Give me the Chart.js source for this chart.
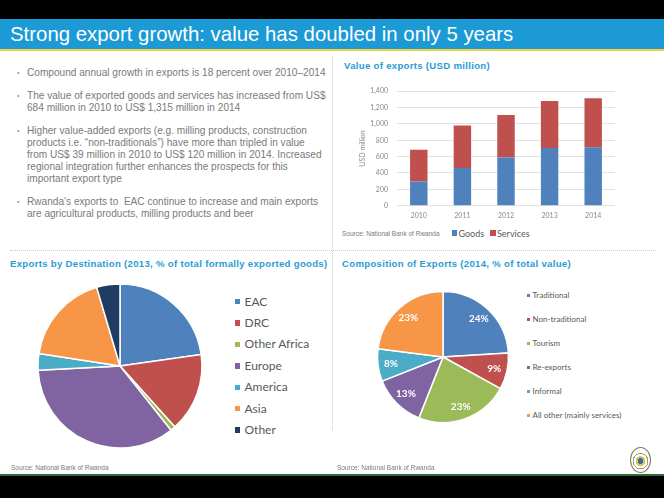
<!DOCTYPE html>
<html>
<head>
<meta charset="utf-8">
<script src="https://cdn.jsdelivr.net/npm/chart.js@4"></script>
<style>
  body { margin: 0; width: 664px; height: 498px; position: relative; background: #fff; overflow: hidden; font-family: "Liberation Sans", Arial, sans-serif; }
  .abs { position: absolute; }
  #topbar { left: 0; top: 0; width: 664px; height: 19px; background: #000; }
  #titlebar { left: 0; top: 19px; width: 664px; height: 30px; background: #1b9ad6; }
  #titleline { left: 0; top: 49px; width: 664px; height: 2px; background: #f3d43a; }
  #title { left: 10px; top: 21px; color: #fff; font-size: 20.4px; line-height: 26px; white-space: nowrap; }
  .para { left: 27px; color: #7a7a7a; font-size: 10.1px; line-height: 12px; white-space: nowrap; }
  .para:before { content: "\2022"; position: absolute; left: -10px; color: #9a9a9a; font-size: 7px; }
  .sect { color: #2a9bd6; font-weight: bold; font-size: 9.6px; letter-spacing: 0.3px; white-space: nowrap; line-height: 12px; }
  .src { color: #7a7a7a; font-size: 6.5px; white-space: nowrap; line-height: 8px; }
  .vdot { left: 332px; top: 57px; width: 0; height: 373px; border-left: 1px dotted #c9c9c9; }
  .hdot { left: 10px; top: 250px; width: 646px; height: 0; border-top: 1px dotted #c9c9c9; }
  #footline { left: 0; top: 474px; width: 664px; height: 2px; background: #2d6a3c; }
  #footbar { left: 0; top: 476px; width: 664px; height: 22px; background: #000; }
  .leg { font-family: Lato, "Liberation Sans", sans-serif; color: #595959; white-space: nowrap; }
  .leg span.box { position: absolute; }
  #logo { left: 630px; top: 447px; width: 19px; height: 24px; border-radius: 50%; border: 1px solid #7d7a52; background: radial-gradient(circle at 50% 55%, #2f6fb0 0 3px, #e3c34a 3px 5px, #fff 5px 7px, #9aa07c 7px 8px, #fff 8px); }
</style>
</head>
<body>
<div id="topbar" class="abs"></div>
<div id="titlebar" class="abs"></div>
<div id="titleline" class="abs"></div>
<div id="title" class="abs">Strong export growth: value has doubled in only 5 years</div>

<div class="abs para" style="top:67px">Compound annual growth in exports is 18 percent over 2010&ndash;2014</div>
<div class="abs para" style="top:89.7px">The value of exported goods and services has increased from US$<br>684 million in 2010 to US$ 1,315 million in 2014</div>
<div class="abs para" style="top:124.7px">Higher value-added exports (e.g. milling products, construction<br>products i.e. &ldquo;non-traditionals&rdquo;) have more than tripled in value<br>from US$ 39 million in 2010 to US$ 120 million in 2014. Increased<br>regional integration further enhances the prospects for this<br>important export type</div>
<div class="abs para" style="top:195.7px">Rwanda&rsquo;s exports to&nbsp; EAC continue to increase and main exports<br>are agricultural products, milling products and beer</div>

<div class="abs vdot"></div>
<div class="abs hdot"></div>

<div class="abs sect" style="left:344px; top:60px">Value of exports (USD million)</div>
<div class="abs sect" style="left:10px; top:257.5px">Exports by Destination (2013, % of total formally exported goods)</div>
<div class="abs sect" style="left:342px; top:257.5px">Composition of Exports (2014, % of total value)</div>

<canvas id="bar" class="abs" width="290" height="150" style="left:335px; top:78px"></canvas>
<div class="abs src" style="left:342px; top:230px">Source: National Bank of Rwanda</div>
<div id="barLegend"></div>

<canvas id="pieDest" class="abs" width="180" height="180" style="left:30px; top:275.7px"></canvas>
<div id="destLegend"></div>

<canvas id="pieComp" class="abs" width="150" height="150" style="left:368.3px; top:281.7px"></canvas>
<div id="compLegend"></div>

<div class="abs src" style="left:11px; top:464px">Source: National Bank of Rwanda</div>
<div class="abs src" style="left:337px; top:464px">Source: National Bank of Rwanda</div>
<div id="logo" class="abs"></div>
<div id="footline" class="abs"></div>
<div id="footbar" class="abs"></div>

<script>
// value of exports, USD million
const years = ['2010', '2011', '2012', '2013', '2014'];
const goods = [296, 460, 588, 704, 716];
const services = [388, 520, 520, 576, 599];
const barSeries = ['Goods', 'Services'];

// exports by destination, 2013 (% of formally exported goods)
const destLabels = ['EAC', 'DRC', 'Other Africa', 'Europe', 'America', 'Asia', 'Other'];
const destValues = [22.8, 15.6, 1.0, 34.9, 3.3, 18.0, 4.6];

// composition of exports, 2014 (% of total value)
const compLabels = ['Traditional', 'Non-traditional', 'Tourism', 'Re-exports', 'Informal', 'All other (mainly services)'];
const compValues = [24, 9, 23, 13, 8, 23];

const blue = '#4f81bd', red = '#c0504d', green = '#9bbb59', purple = '#8064a2',
      teal = '#4bacc6', orange = '#f79646', navy = '#1f3d63';
const barColors = [blue, red];
const destColors = [blue, red, green, purple, teal, orange, navy];
const compColors = [blue, red, green, purple, teal, orange];

function legend(id, labels, colors, x, y0, step, box, font, gap) {
  var el = document.getElementById(id);
  labels.forEach(function (lab, i) {
    var y = y0 + i * step;
    var row = document.createElement('div');
    row.className = 'abs leg';
    row.style.left = x + 'px';
    row.style.top = (y - font * 0.6) + 'px';
    row.style.fontSize = font + 'px';
    row.style.lineHeight = (font * 1.2) + 'px';
    row.style.paddingLeft = (box + gap) + 'px';
    row.innerHTML = '<span class="box" style="left:0; top:' + (font * 0.6 - box / 2) + 'px; width:' + box + 'px; height:' + box + 'px; background:' + colors[i] + '"></span>' + lab;
    el.appendChild(row);
  });
}

// bar legend laid out horizontally
(function () {
  var el = document.getElementById('barLegend');
  var xs = [451.5, 490];
  barSeries.forEach(function (lab, i) {
    var row = document.createElement('div');
    row.className = 'abs leg';
    row.style.left = xs[i] + 'px';
    row.style.top = '227.5px';
    row.style.fontSize = '9px';
    row.style.lineHeight = '11px';
    row.style.paddingLeft = '7px';
    row.innerHTML = '<span class="box" style="left:0; top:2.5px; width:5.5px; height:5.5px; background:' + barColors[i] + '"></span>' + lab;
    el.appendChild(row);
  });
})();

legend('destLegend', destLabels, destColors, 234.5, 301.7, 21.4, 5.5, 12, 4.5);
legend('compLegend', compLabels, compColors, 527, 296, 24, 3, 8, 2.5);

new Chart(document.getElementById('bar'), {
  type: 'bar',
  data: {
    labels: years,
    datasets: [
      { label: barSeries[0], data: goods, backgroundColor: barColors[0] },
      { label: barSeries[1], data: services, backgroundColor: barColors[1] }
    ]
  },
  options: {
    responsive: false,
    animation: false,
    layout: { padding: { left: 20, right: 10, top: 11, bottom: 0 } },
    datasets: { bar: { categoryPercentage: 1, barPercentage: 0.4 } },
    plugins: { legend: { display: false }, tooltip: { enabled: false } },
    scales: {
      x: {
        stacked: true,
        grid: { display: false, drawTicks: false },
        border: { display: false },
        ticks: { color: '#8a8a8a', font: { family: 'Lato', size: 7 }, padding: 6 },
        afterFit: function (s) { s.height = 22.3; }
      },
      y: {
        stacked: true,
        min: 0, max: 1400,
        grid: { color: '#e2e2e2', drawTicks: false },
        border: { display: false },
        ticks: {
          stepSize: 200, padding: 9, color: '#8a8a8a', font: { family: 'Lato', size: 7 },
          callback: function (v) { return v.toLocaleString('en-US'); }
        },
        title: { display: true, text: 'USD million', color: '#8a8a8a', font: { family: 'Lato', size: 7 }, padding: { top: 4, bottom: 0 } },
        afterFit: function (s) { s.width = 42; }
      }
    }
  }
});

new Chart(document.getElementById('pieDest'), {
  type: 'pie',
  data: { labels: destLabels, datasets: [{ data: destValues, backgroundColor: destColors, borderColor: '#fff', borderWidth: 1.5, hoverOffset: 0 }] },
  options: {
    responsive: false, animation: false, radius: 82,
    plugins: { legend: { display: false }, tooltip: { enabled: false } }
  }
});

// white percentage labels inside the composition pie
const sliceLabels = {
  id: 'sliceLabels',
  afterDatasetsDraw: function (chart) {
    var ctx = chart.ctx;
    var meta = chart.getDatasetMeta(0);
    ctx.save();
    ctx.fillStyle = '#fff';
    ctx.font = 'bold 10px Lato, "Liberation Sans", sans-serif';
    ctx.textAlign = 'center';
    ctx.textBaseline = 'middle';
    meta.data.forEach(function (arc, i) {
      var p = arc.getProps(['x', 'y', 'startAngle', 'endAngle', 'outerRadius'], true);
      var a = (p.startAngle + p.endAngle) / 2;
      var r = p.outerRadius * 0.8;
      ctx.fillText(compValues[i] + '%', p.x + Math.cos(a) * r, p.y + Math.sin(a) * r);
    });
    ctx.restore();
  }
};

new Chart(document.getElementById('pieComp'), {
  type: 'pie',
  data: { labels: compLabels, datasets: [{ data: compValues, backgroundColor: compColors, borderColor: '#fff', borderWidth: 1.5, hoverOffset: 0 }] },
  options: {
    responsive: false, animation: false, radius: 65.5,
    plugins: { legend: { display: false }, tooltip: { enabled: false } }
  },
  plugins: [sliceLabels]
});
</script>
</body>
</html>
